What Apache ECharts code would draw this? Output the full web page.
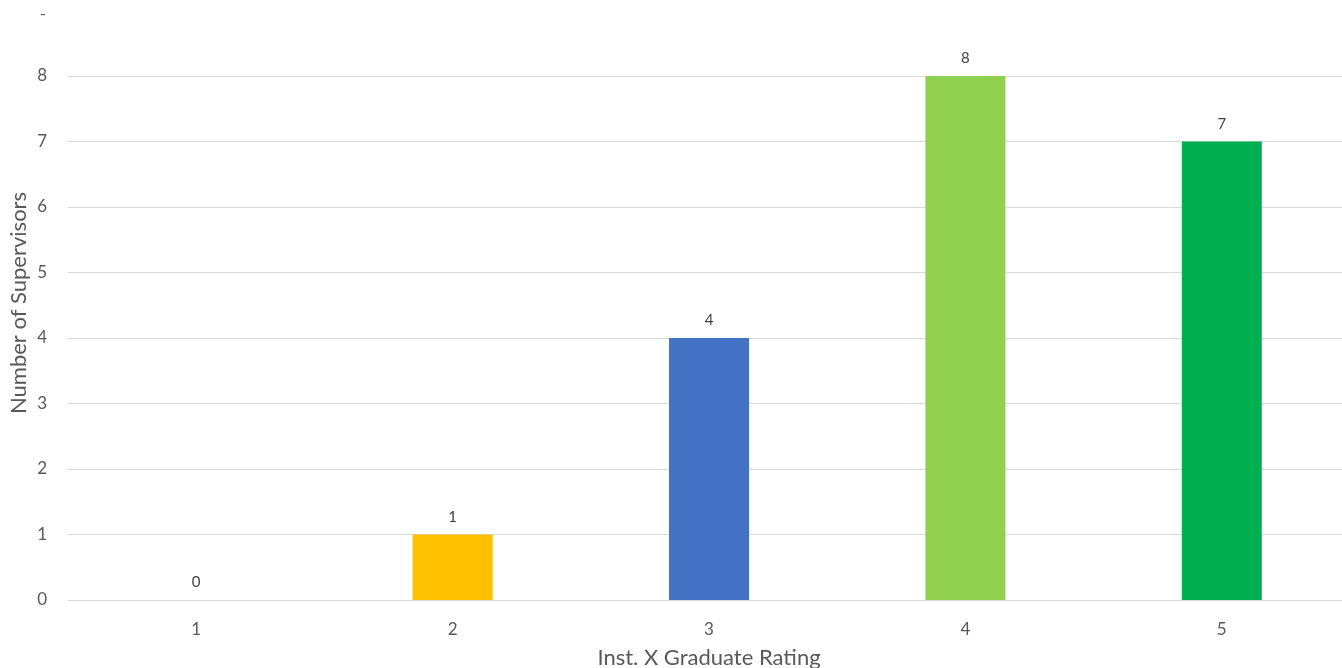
<!DOCTYPE html>
<html>
<head>
<meta charset="utf-8">
<script src="https://cdn.jsdelivr.net/npm/echarts@6/dist/echarts.min.js"></script>
<style>
html,body{margin:0;padding:0;background:#fff;}
#chart{width:1342px;height:668px;}
</style>
</head>
<body>
<div id="chart"></div>
<script>
// Rating categories and supervisor counts
const ratings = ['1', '2', '3', '4', '5'];
const supervisors = [0, 1, 4, 8, 7];
const barColors = ['#A5A5A5', '#FFC000', '#4472C4', '#92D050', '#00B050'];
const yTicks = [0, 1, 2, 3, 4, 5, 6, 7, 8];

const font = 'Lato, "Open Sans", sans-serif';
const chart = echarts.init(document.getElementById('chart'));

chart.setOption({
  animation: false,
  grid: { left: 68, right: -8, top: 76, bottom: 68, containLabel: false, outerBoundsMode: 'none' },
  xAxis: {
    type: 'category',
    data: ratings,
    name: 'Inst. X Graduate Rating',
    nameLocation: 'middle',
    nameGap: 47,
    nameTextStyle: { color: '#595959', fontSize: 22, fontFamily: font },
    axisLine: { lineStyle: { color: '#d9d9d9' } },
    axisTick: { show: false },
    axisLabel: { color: '#595959', fontSize: 17, fontFamily: font, margin: 21 }
  },
  yAxis: {
    type: 'value',
    min: yTicks[0],
    max: yTicks[yTicks.length - 1],
    interval: 1,
    axisLine: { show: false },
    axisTick: { show: false },
    axisLabel: { color: '#595959', fontSize: 17, fontFamily: font, margin: 21 },
    splitLine: { lineStyle: { color: '#d9d9d9' } }
  },
  graphic: [{
    type: 'text',
    left: 40,
    top: 6,
    style: { text: '-', fill: '#595959', font: '16px ' + font }
  }, {
    // vertical axis title
    type: 'text',
    x: 19,
    y: 303,
    rotation: Math.PI / 2,
    style: {
      text: 'Number of Supervisors',
      fill: '#595959',
      font: '22px ' + font,
      align: 'center',
      verticalAlign: 'middle'
    }
  }],
  series: [{
    type: 'bar',
    barWidth: 80,
    data: supervisors.map((v, i) => ({ value: v, itemStyle: { color: barColors[i] } })),
    label: {
      show: true,
      position: 'top',
      distance: 10,
      color: '#404040',
      fontSize: 15,
      fontFamily: font
    }
  }]
});
</script>
</body>
</html>
